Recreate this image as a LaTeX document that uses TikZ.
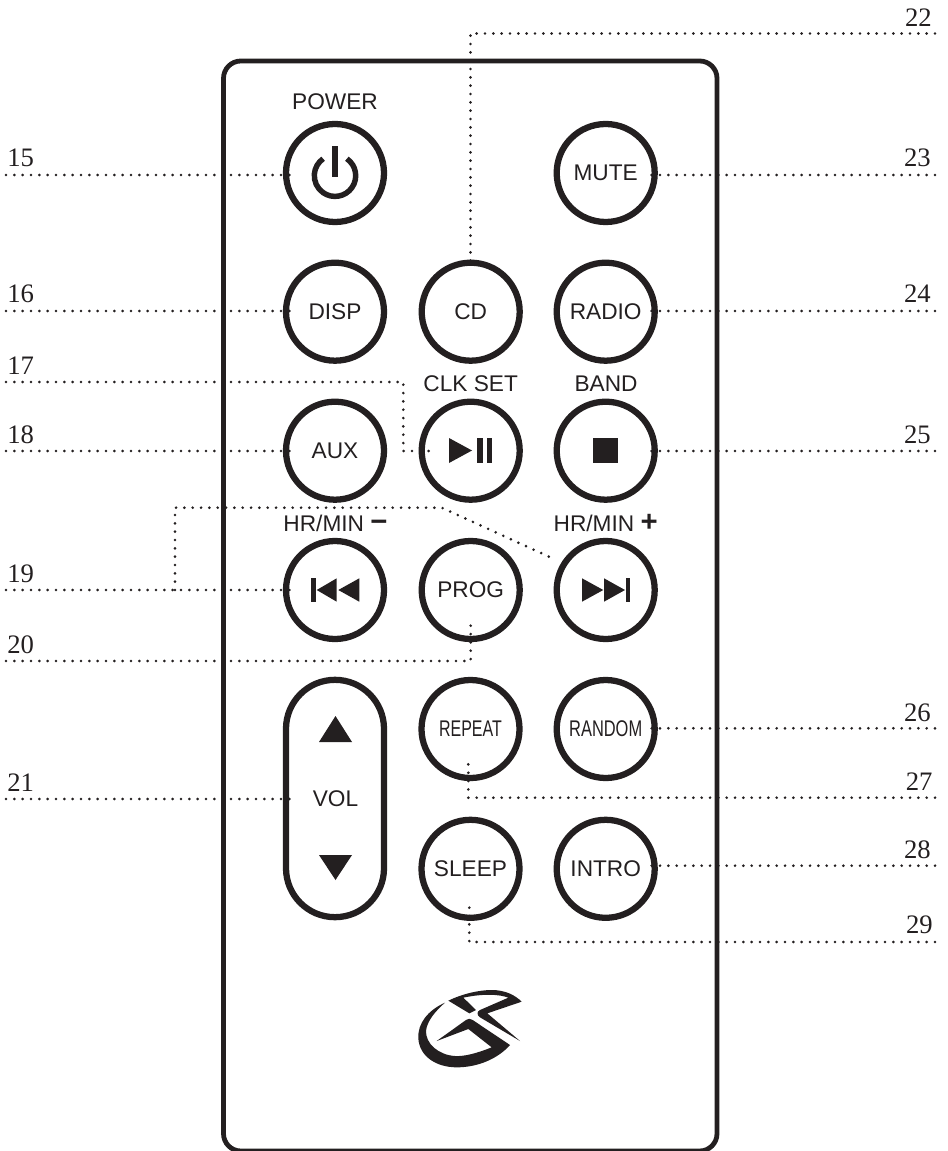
\documentclass[tikz,border=0pt]{standalone}
\usepackage{graphicx}
\usepackage{fontspec}
\setmainfont{Liberation Sans}
\newfontfamily\numfont{Liberation Serif}
\definecolor{ink}{HTML}{231F20}
\newcommand{\bigsign}[1]{{\fontsize{22}{22}\selectfont\textbf{#1}}}
\tikzset{
  btn/.style={circle,draw=ink,line width=4.7pt,minimum size=73.5pt,inner sep=0pt,font=\fontsize{17}{18}\selectfont,text=ink},
  lbl/.style={inner sep=0pt,anchor=center,font=\fontsize{17}{18}\selectfont,text=ink},
  lblb/.style={lbl,anchor=base},
  num/.style={inner sep=0pt,font=\numfont\fontsize{20}{22}\selectfont,text=ink},
  numl/.style={num,anchor=base west},
  numr/.style={num,anchor=base east},
  leader/.style={draw=ink,line width=2.2pt,line cap=round,dash pattern=on 0pt off 6.25pt},
  icon/.style={fill=ink,draw=none},
  body/.style={draw=ink,line width=3.6pt,rounded corners=13pt},
}
\begin{document}
\begin{tikzpicture}[x=0.75pt,y=-0.75pt]
\useasboundingbox (0,0) rectangle (947,1151);
\begin{scope}
\clip (0,0) rectangle (947,1151);
\draw[body] (223.5,61) rectangle (717,1151);
\end{scope}

% buttons
\node[btn] (power) at (335,173) {};
\node[btn] (mute) at (605.7,173) {MUTE};
\node[btn] (disp) at (335,311.7) {DISP};
\node[btn] (cd) at (470.7,311.7) {CD};
\node[btn] (radio) at (605.7,311.7) {RADIO};
\node[btn] (aux) at (335,450.7) {AUX};
\node[btn] (play) at (470.7,450.7) {};
\node[btn] (stop) at (605.7,450.7) {};
\node[btn] (prev) at (335,590) {};
\node[btn] (prog) at (470.7,590) {PROG};
\node[btn] (next) at (605.7,590) {};
\node[btn] (repeat) at (470.5,729) {\scalebox{.705}[1]{REPEAT}};
\node[btn] (random) at (605.7,729) {\scalebox{.725}[1]{RANDOM}};
\node[btn] (sleep) at (470.5,868.8) {SLEEP};
\node[btn] (intro) at (605.7,868.8) {INTRO};

% volume pill
\node[draw=ink,line width=4.7pt,rounded corners=36.7pt,minimum width=73.5pt,minimum height=178pt,inner sep=0pt] (vol) at (335,798.5) {};
\node[lbl] (voltext) at (335.5,799) {VOL};
\fill[icon] (335.5,716) -- (352,742) -- (319,742) -- cycle;
\fill[icon] (335.5,880) -- (352,855) -- (319,855) -- cycle;

% captions
\node[lbl] (tpower) at (335,102) {POWER};
\node[lbl] (tclk) at (470.7,384) {CLK SET};
\node[lbl] (tband) at (606,384) {BAND};
\node[lblb] (tminus) at (335.5,531) {HR/MIN \bigsign{−}};
\node[lblb] (tplus) at (605.7,531) {HR/MIN \bigsign{+}};

% icons
\draw[ink,line width=4.1pt] (335,175.7) ++(-55:20.7) arc[start angle=-55,end angle=235,radius=20.7];
\fill[icon] (332.3,145.7) rectangle (338.3,177.3);
\fill[icon] (449,438) -- (472,450.5) -- (449,463) -- cycle;
\fill[icon] (477.3,438) rectangle (482.7,463);
\fill[icon] (486.7,438) rectangle (492.3,463);
\fill[icon] (593,438) rectangle (618,463);
\fill[icon] (311.3,578) rectangle (315.7,602);
\fill[icon] (336.7,578.3) -- (316.7,590) -- (336.7,601.7) -- cycle;
\fill[icon] (359.3,578.3) -- (338.3,590) -- (359.3,601.7) -- cycle;
\fill[icon] (582,578.3) -- (603.3,590) -- (582,601.7) -- cycle;
\fill[icon] (604,578.3) -- (625,590) -- (604,601.7) -- cycle;
\fill[icon] (625.7,578) rectangle (630,602);

% logo
\begin{scope}[shift={(400,960)},x=.25pt,y=-.25pt]
\fill[icon] (135,128) .. controls (85,150) and (52,190) .. (55,235)
  .. controls (58,290) and (110,322) .. (170,322)
  .. controls (235,322) and (295,295) .. (330,255)
  -- (218,180) .. controls (210,175) and (205,175) .. (198,180)
  -- (110,243) -- (205,207) -- (275,262)
  .. controls (235,278) and (195,290) .. (165,288)
  .. controls (115,285) and (76,250) .. (78,212)
  .. controls (82,180) and (110,150) .. (135,128) -- cycle;
\fill[icon] (145,122) .. controls (190,100) and (240,90) .. (275,90)
  .. controls (315,90) and (345,105) .. (365,125)
  -- (262,160) -- (360,243) -- (240,172)
  .. controls (230,165) and (230,155) .. (240,150)
  -- (325,113) .. controls (300,103) and (250,100) .. (190,113)
  -- (228,150) -- (208,160) -- cycle;
\end{scope}

% number labels
\node[numl] (n15) at (7,166.7) {15};
\node[numl] (n16) at (7,302.7) {16};
\node[numl] (n17) at (7,374) {17};
\node[numl] (n18) at (7,443) {18};
\node[numl] (n19) at (7,582) {19};
\node[numl] (n20) at (7,653) {20};
\node[numl] (n21) at (7,791) {21};
\node[numr] (n22) at (932,26.7) {22};
\node[numr] (n23) at (931,166.7) {23};
\node[numr] (n24) at (931,303) {24};
\node[numr] (n25) at (931,443) {25};
\node[numr] (n26) at (931,721) {26};
\node[numr] (n27) at (932.7,790) {27};
\node[numr] (n28) at (931,858.3) {28};
\node[numr] (n29) at (933,933.5) {29};

% leader end points
\coordinate (l15) at (6,175); \coordinate (e15) at (290,175);
\coordinate (l16) at (6,311); \coordinate (e16) at (290,311);
\coordinate (l17) at (6,382); \coordinate (k17) at (403.3,382); \coordinate (j17) at (403.3,451); \coordinate (e17) at (435,451);
\coordinate (l18) at (6,451); \coordinate (e18) at (290,451);
\coordinate (l19) at (6,590); \coordinate (e19) at (290,590);
\coordinate (k19) at (175,590); \coordinate (j19) at (175,507.7); \coordinate (i19) at (441.7,507.7); \coordinate (h19) at (553,558.5);
\coordinate (l20) at (6,661); \coordinate (k20) at (470.7,661); \coordinate (e20) at (470.7,618);
\coordinate (l21) at (6,799); \coordinate (e21) at (291.7,799);
\coordinate (r22) at (935,33.5); \coordinate (k22) at (470.5,33.5); \coordinate (e22) at (470.5,267);
\coordinate (r23) at (935,175); \coordinate (e23) at (650,175);
\coordinate (r24) at (935,311); \coordinate (e24) at (650,311);
\coordinate (r25) at (935,451); \coordinate (e25) at (650,451);
\coordinate (r26) at (935,728.3); \coordinate (e26) at (650,728.3);
\coordinate (r27) at (935,797.7); \coordinate (k27) at (468.3,797.7); \coordinate (e27) at (468.3,762.7);
\coordinate (r28) at (935,865.7); \coordinate (e28) at (650,865.7);
\coordinate (r29) at (935,942); \coordinate (k29) at (469.3,942); \coordinate (e29) at (469.3,900);

% leaders
\path[leader] (l15) -- (e15);
\path[leader] (l16) -- (e16);
\path[leader] (l17) -- (k17) -- (j17) -- (e17);
\path[leader] (l18) -- (e18);
\path[leader] (l19) -- (e19);
\path[leader] (k19) -- (j19) -- (i19) -- (h19);
\path[leader] (l20) -- (k20) -- (e20);
\path[leader] (l21) -- (e21);
\path[leader] (r22) -- (k22) -- (e22);
\path[leader] (r23) -- (e23);
\path[leader] (r24) -- (e24);
\path[leader] (r25) -- (e25);
\path[leader] (r26) -- (e26);
\path[leader] (r27) -- (k27) -- (e27);
\path[leader] (r28) -- (e28);
\path[leader] (r29) -- (k29) -- (e29);
\end{tikzpicture}
\end{document}
